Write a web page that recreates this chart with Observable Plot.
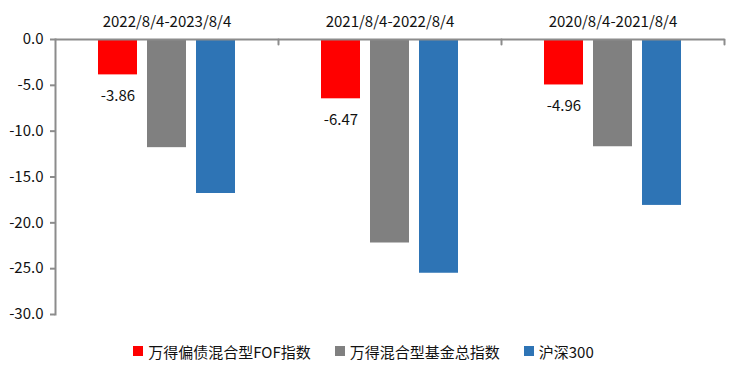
<!DOCTYPE html>
<html>
<head>
<meta charset="utf-8">
<script src="https://cdn.jsdelivr.net/npm/d3@7"></script>
<script src="https://cdn.jsdelivr.net/npm/@observablehq/plot@0.6"></script>
<style>
  body { margin: 0; background: #fff; font-family: "Noto Sans CJK SC", sans-serif; }
  #legend { display: flex; justify-content: center; align-items: center; height: 42px; font-size: 15px; color: #111; padding-right: 10px; }
  #legend .item { display: flex; align-items: center; margin: 0 12px; }
  #legend .sw { width: 10px; height: 10px; margin-right: 5px; }
</style>
</head>
<body>
<div id="chart"></div>
<div id="legend"></div>
<script>
const categories = ["2022/8/4-2023/8/4", "2021/8/4-2022/8/4", "2020/8/4-2021/8/4"];
const series = ["万得偏债混合型FOF指数", "万得混合型基金总指数", "沪深300"];
const colors = ["#ff0000", "#808080", "#2e74b5"];
const fofValues = [-3.86, -6.47, -4.96];
const mixedValues = [-11.8, -22.2, -11.7];
const csi300Values = [-16.8, -25.5, -18.1];
const yTicks = [0, -5, -10, -15, -20, -25, -30];

const seriesValues = [fofValues, mixedValues, csi300Values];
const data = [];
categories.forEach((c, i) => {
  series.forEach((s, j) => {
    data.push({category: c, series: s, value: seriesValues[j][i]});
  });
});
const labels = data.filter(d => d.series === series[0]);

const chart = Plot.plot({
  width: 737,
  height: 330,
  marginLeft: 54,
  marginRight: 13,
  marginTop: 39,
  marginBottom: 16,
  style: {fontFamily: "'Noto Sans CJK SC', sans-serif", fontSize: "15px", color: "#111"},
  fx: {domain: categories, paddingInner: 0, paddingOuter: 0, label: null},
  x: {domain: series, paddingInner: 0.2, paddingOuter: 0.84, axis: null},
  y: {domain: [-30, 0], ticks: yTicks, tickFormat: d => d.toFixed(1), label: null},
  color: {domain: series, range: colors},
  marks: [
    Plot.barY(data, {fx: "category", x: "series", y: "value", fill: "series"}),
    Plot.text(labels, {fx: "category", x: "series", y: "value", text: d => d.value.toFixed(2), dy: 21, fontSize: 15, fill: "#111"}),
    Plot.ruleY([0], {stroke: "#8c8c8c", strokeWidth: 2}),
    Plot.vector([0], {frameAnchor: "top-right", length: 5, rotate: 180, anchor: "start", stroke: "#8c8c8c", strokeWidth: 2,
      shape: {draw(context, l) { context.moveTo(0, 0); context.lineTo(0, -l); }}}),
    Plot.frame({anchor: "left", facetAnchor: "left", stroke: "#8c8c8c", strokeWidth: 2}),
    Plot.axisY({ticks: yTicks, tickFormat: d => d.toFixed(1), tickSize: 5, tickPadding: 7, stroke: "#8c8c8c", strokeWidth: 2, fill: "#111", fontSize: 15, label: null}),
    Plot.axisFx({anchor: "top", tickSize: 0, tickPadding: 13, fontSize: 15, fill: "#111", label: null})
  ]
});
document.getElementById("chart").appendChild(chart);

const legend = document.getElementById("legend");
series.forEach((s, i) => {
  const item = document.createElement("div");
  item.className = "item";
  const sw = document.createElement("span");
  sw.className = "sw";
  sw.style.background = colors[i];
  const t = document.createElement("span");
  t.textContent = s;
  item.appendChild(sw);
  item.appendChild(t);
  legend.appendChild(item);
});
</script>
</body>
</html>
